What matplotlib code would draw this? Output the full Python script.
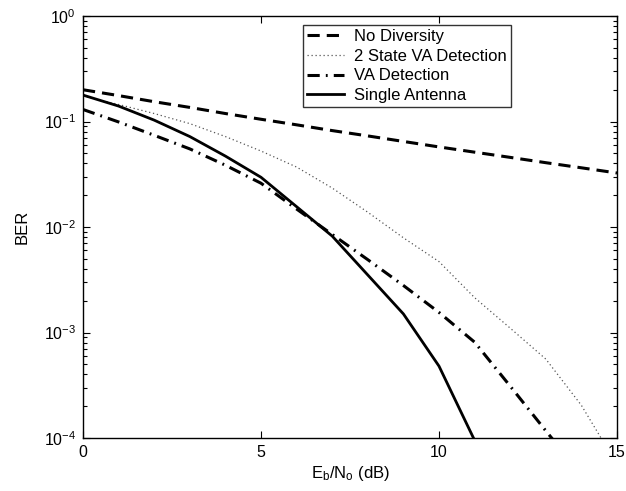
import numpy as np
import matplotlib
matplotlib.use("Agg")
import matplotlib.pyplot as plt
from matplotlib.ticker import LogLocator, FixedLocator, NullFormatter

plt.rcParams['font.family'] = ['Liberation Sans', 'DejaVu Sans']
plt.rcParams['mathtext.fontset'] = 'custom'
plt.rcParams['mathtext.rm'] = 'Liberation Sans'
plt.rcParams['mathtext.it'] = 'Liberation Sans:italic'
plt.rcParams['mathtext.default'] = 'regular'

# Data
x_nodiv = [0, 1, 2, 3, 4, 5, 6, 7, 8, 9, 10, 11, 12, 13, 14, 15]
ber_nodiv = [0.200, 0.176, 0.154, 0.136, 0.119, 0.105, 0.093, 0.082, 0.073,
             0.0647, 0.0574, 0.0512, 0.0457, 0.0407, 0.0364, 0.0325]

x_2state = [0, 1, 2, 3, 4, 5, 6, 7, 8, 9, 10, 11, 12, 13, 14, 15]
ber_2state = [0.174, 0.145, 0.119, 0.0955, 0.072, 0.0525, 0.037, 0.0234, 0.0138,
              0.0079, 0.0047, 0.00214, 0.0011, 0.00056, 0.000204, 0.000056]

x_va = [0, 1, 2, 3, 4, 5, 6, 7, 8, 9, 10, 11, 12, 13, 14]
ber_va = [0.130, 0.099, 0.074, 0.055, 0.0385, 0.026, 0.0148, 0.0085, 0.0049,
          0.00279, 0.00155, 0.00081, 0.00031, 0.000117, 0.000045]

x_single = [0, 1, 2, 3, 4, 5, 7, 9, 10, 11]
ber_single = [0.178, 0.140, 0.103, 0.072, 0.047, 0.0296, 0.0082, 0.0015,
              0.00048, 0.000095]

labels = ['No Diversity', '2 State VA Detection', 'VA Detection', 'Single Antenna']

fig = plt.figure(figsize=(6.26, 4.91), dpi=100)
ax = fig.add_axes([83/626, 53/491, (617-83)/626, (438-16)/491])

ax.semilogy(x_nodiv, ber_nodiv, color='black', lw=2.2, linestyle=(0, (4, 2.3)),
            label=labels[0])
ax.semilogy(x_2state, ber_2state, color='#555555', lw=0.9, linestyle=(0, (1, 2.2)),
            label=labels[1])
ax.semilogy(x_va, ber_va, color='black', lw=2.2, linestyle=(0, (4, 2, 0.6, 2)),
            label=labels[2])
ax.semilogy(x_single, ber_single, color='black', lw=2.0, linestyle='-',
            label=labels[3])

ax.set_xlim(0, 15)
ax.set_ylim(1e-4, 1)
ax.xaxis.set_major_locator(FixedLocator([0, 5, 10, 15]))
ax.yaxis.set_major_locator(LogLocator(base=10, numticks=10))
ax.yaxis.set_minor_locator(LogLocator(base=10, subs=np.arange(2, 10), numticks=20))
ax.yaxis.set_minor_formatter(NullFormatter())

ax.tick_params(which='both', direction='in', top=True, right=True,
               labelsize=11.5, width=0.8)
ax.tick_params(which='major', length=5, pad=5)
ax.tick_params(which='minor', length=3)
for s in ax.spines.values():
    s.set_linewidth(1.0)

ax.set_xlabel(r'E$_{b}$/N$_{o}$ (dB)', fontsize=12, labelpad=3)
ax.set_ylabel('BER', fontsize=12, labelpad=10)

leg = ax.legend(loc='upper left', bbox_to_anchor=((303-83)/534, 1 - (25-16)/422),
                fontsize=12, frameon=True, fancybox=False, edgecolor='black',
                handlelength=2.2, handletextpad=0.6, labelspacing=0.28,
                borderpad=0.25, borderaxespad=0)
leg.get_frame().set_linewidth(1.0)

fig.savefig('out.png', dpi=100)
